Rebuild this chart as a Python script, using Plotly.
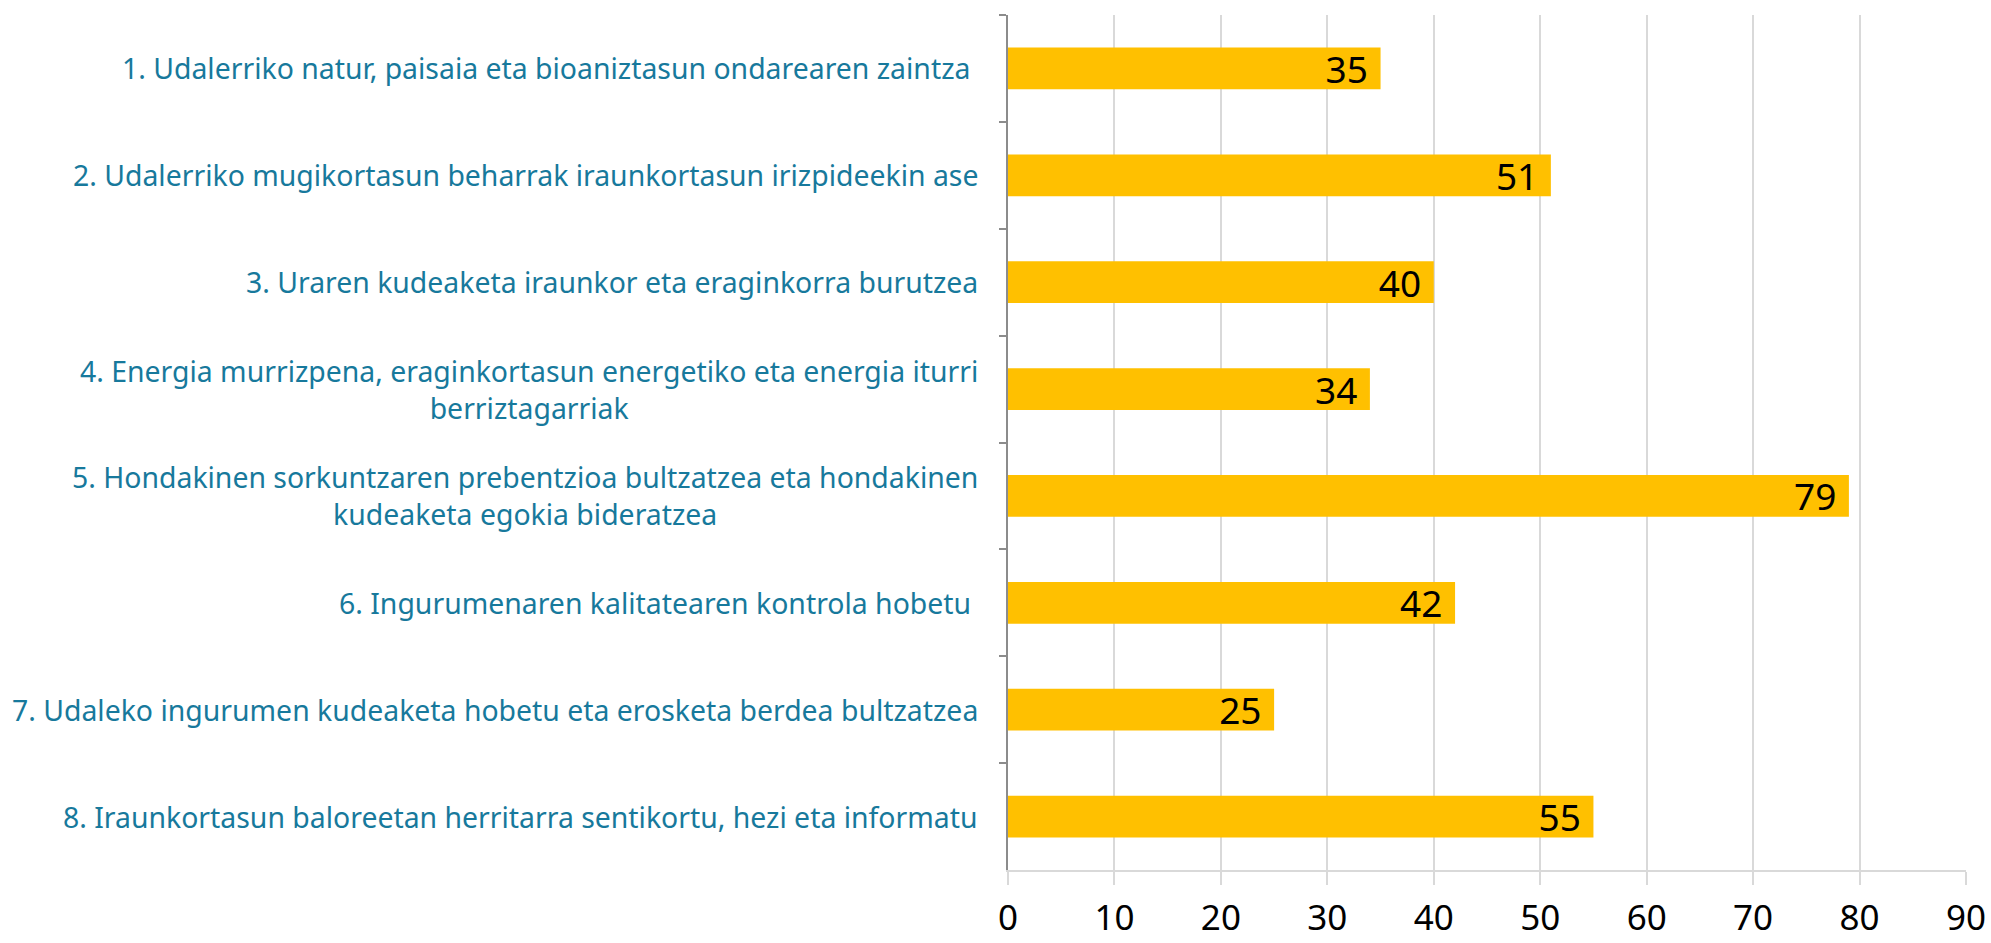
import plotly.graph_objects as go

labels = [
    "1. Udalerriko natur, paisaia eta bioaniztasun ondarearen zaintza ",
    "2. Udalerriko mugikortasun beharrak iraunkortasun irizpideekin ase",
    "3. Uraren kudeaketa iraunkor eta eraginkorra burutzea",
    "4. Energia murrizpena, eraginkortasun energetiko eta energia iturri<br>berriztagarriak",
    "5. Hondakinen sorkuntzaren prebentzioa bultzatzea eta hondakinen<br>kudeaketa egokia bideratzea",
    "6. Ingurumenaren kalitatearen kontrola hobetu ",
    "7. Udaleko ingurumen kudeaketa hobetu eta erosketa berdea bultzatzea",
    "8. Iraunkortasun baloreetan herritarra sentikortu, hezi eta informatu",
]
values = [35, 51, 40, 34, 79, 42, 25, 55]
x_ticks = [0, 10, 20, 30, 40, 50, 60, 70, 80, 90]

cats = ["c%d" % (i + 1) for i in range(len(labels))]

fig = go.Figure()
fig.add_trace(go.Bar(
    y=cats,
    x=values,
    orientation="h",
    marker_color="#FFC000",
    marker_line_width=0,
    texttemplate="%{x}\u00a0",
    textposition="inside",
    insidetextanchor="end",
    constraintext="none",
    textangle=0,
    textfont=dict(family="Noto Sans", size=37, color="black"),
))

# category labels, centred block like the original
for i, lab in enumerate(labels):
    fig.add_annotation(
        x=0, xref="paper", y=i, yref="y",
        text=lab, showarrow=False,
        xanchor="right", yanchor="middle", align="center",
        xshift=-28,
        font=dict(family="Noto Sans", size=28.4, color="#17799C"),
    )

fig.update_layout(
    width=1991, height=943,
    margin=dict(l=1008, r=25, t=15, b=73),
    plot_bgcolor="white", paper_bgcolor="white",
    bargap=0.61,
    showlegend=False,
)
fig.update_xaxes(
    range=[0, 90], tickvals=x_ticks,
    showgrid=True, gridcolor="#D9D9D9", gridwidth=1.5,
    showline=True, linecolor="#D9D9D9", linewidth=1.5,
    ticks="outside", ticklen=13, tickcolor="#D9D9D9", tickwidth=1.5,
    ticklabelstandoff=3, ticklabeloverflow="allow", automargin=False,
    tickfont=dict(family="Noto Sans", size=35, color="black"),
    zeroline=False,
)
fig.update_yaxes(
    autorange="reversed",
    showticklabels=False,
    showline=True, linecolor="#8C8C8C", linewidth=1.5,
    ticks="outside", tickson="boundaries", ticklen=7, tickcolor="#8C8C8C", tickwidth=1.5,
    showgrid=False, automargin=False,
)

# page has a default 8px body margin; drop it so the figure fills the window
fig.write_html(
    "out.html",
    config={"displayModeBar": False},
    post_script="document.body.style.margin='0';",
)
